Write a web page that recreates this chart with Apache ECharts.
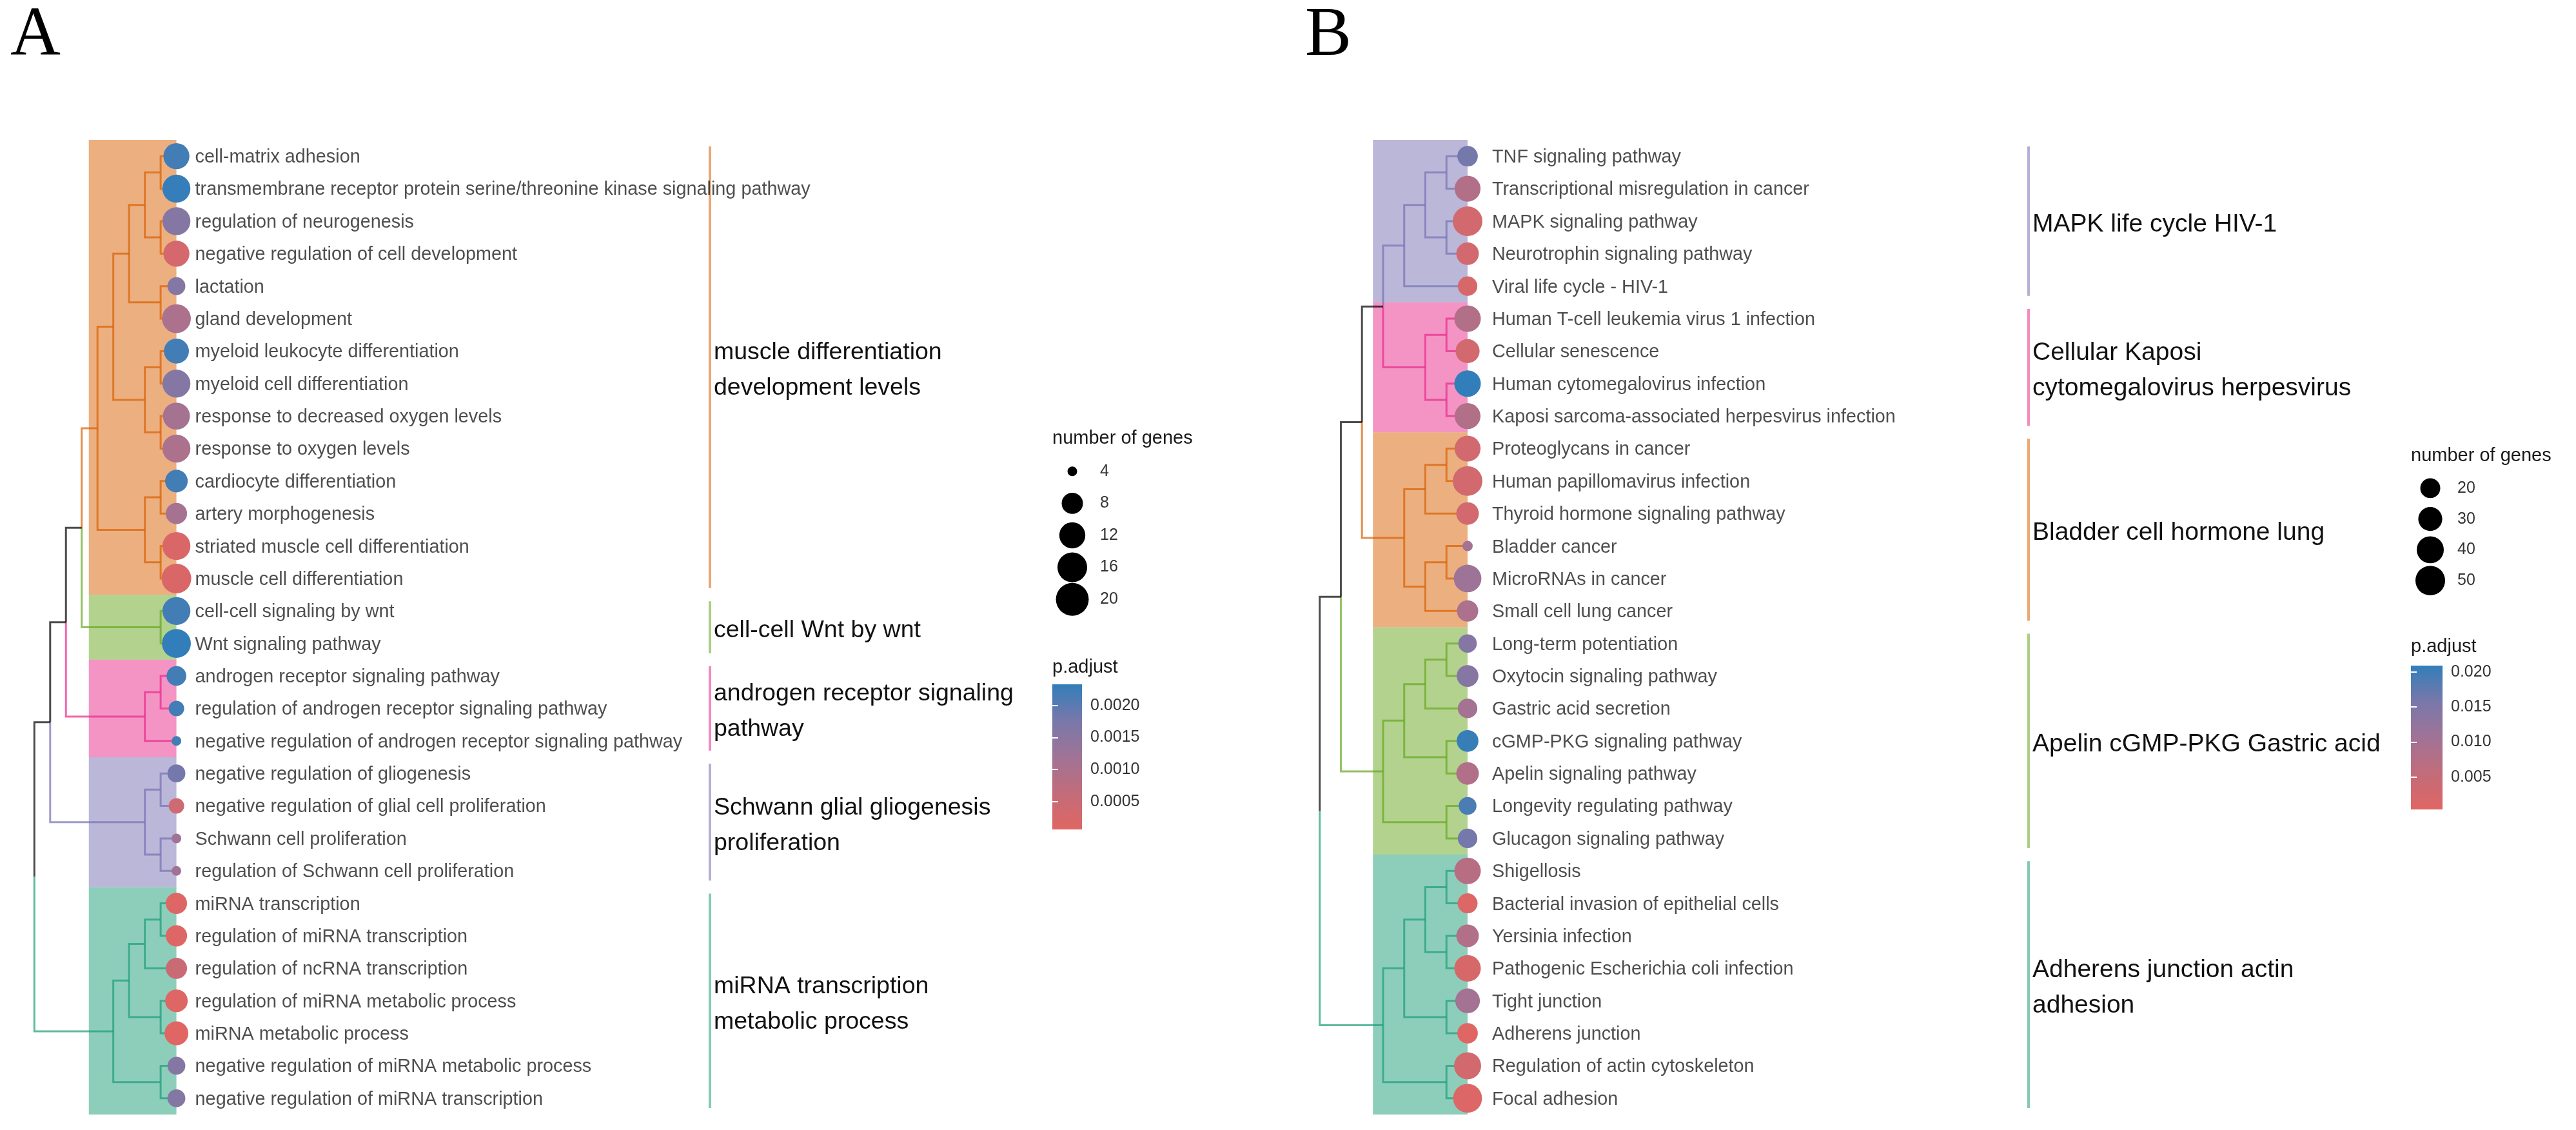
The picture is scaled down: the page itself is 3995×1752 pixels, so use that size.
<!DOCTYPE html>
<html><head><meta charset="utf-8">
<script src="https://cdn.jsdelivr.net/npm/echarts@6/dist/echarts.min.js"></script>
<style>html,body{margin:0;padding:0;background:#fff}#c{width:3995px;height:1752px}</style>
</head><body><div id="c"></div>
<script>
// ---------------- DATA: panel A ----------------
const termsA = [
'cell-matrix adhesion',
'transmembrane receptor protein serine/threonine kinase signaling pathway',
'regulation of neurogenesis',
'negative regulation of cell development',
'lactation',
'gland development',
'myeloid leukocyte differentiation',
'myeloid cell differentiation',
'response to decreased oxygen levels',
'response to oxygen levels',
'cardiocyte differentiation',
'artery morphogenesis',
'striated muscle cell differentiation',
'muscle cell differentiation',
'cell-cell signaling by wnt',
'Wnt signaling pathway',
'androgen receptor signaling pathway',
'regulation of androgen receptor signaling pathway',
'negative regulation of androgen receptor signaling pathway',
'negative regulation of gliogenesis',
'negative regulation of glial cell proliferation',
'Schwann cell proliferation',
'regulation of Schwann cell proliferation',
'miRNA transcription',
'regulation of miRNA transcription',
'regulation of ncRNA transcription',
'regulation of miRNA metabolic process',
'miRNA metabolic process',
'negative regulation of miRNA metabolic process',
'negative regulation of miRNA transcription'];
const countA = [12,14,14,12,6,15,11,14,13,14,9,8,14,16,14,15,7,5,4,6,5,4,4,8,8,8,9,10,6,6];
const padjA = [0.0022,0.0023,0.0016,0.0003,0.0016,0.0010,0.0022,0.0016,0.0011,0.0010,0.0022,0.0011,0.0002,0.0002,
  0.0022,0.00233,0.0022,0.0022,0.0022,0.0018,0.0004,0.0012,0.0012,0.0001,0.0001,0.0005,0.0001,0.000067,0.0016,0.0016];
const clusterOfRowA = [0,0,0,0,0,0,0,0,0,0,0,0,0,0,1,1,2,2,2,3,3,3,3,4,4,4,4,4,4,4];
const clusterLabelsA = ['muscle differentiation\ndevelopment levels','cell-cell Wnt by wnt',
  'androgen receptor signaling\npathway','Schwann glial gliogenesis\nproliferation','miRNA transcription\nmetabolic process'];
// tree: [mergeLevel, childA, childB], leaves = row index
const treeA = [9,
  [8,
    [7,
      [6,
        [5,
          [4,
            [3, [2, [1,0,1], [1,2,3]], [1,4,5]],
            [2, [1,6,7], [1,8,9]]],
          [2, [1,10,11], [1,12,13]]],
        [1,14,15]],
      [2, [1,16,17], 18]],
    [2, [1,19,20], [1,21,22]]],
  [4,
    [3, [2, [1,23,24], 25], [1,26,27]],
    [1,28,29]]];
const sizeBreaksA = [4,8,12,16,20];
const padjTicksA = [0.0005,0.0010,0.0015,0.0020];

// ---------------- DATA: panel B ----------------
const termsB = ['TNF signaling pathway','Transcriptional misregulation in cancer','MAPK signaling pathway',
'Neurotrophin signaling pathway','Viral life cycle - HIV-1','Human T-cell leukemia virus 1 infection',
'Cellular senescence','Human cytomegalovirus infection','Kaposi sarcoma-associated herpesvirus infection',
'Proteoglycans in cancer','Human papillomavirus infection','Thyroid hormone signaling pathway','Bladder cancer',
'MicroRNAs in cancer','Small cell lung cancer','Long-term potentiation','Oxytocin signaling pathway',
'Gastric acid secretion','cGMP-PKG signaling pathway','Apelin signaling pathway','Longevity regulating pathway',
'Glucagon signaling pathway','Shigellosis','Bacterial invasion of epithelial cells','Yersinia infection',
'Pathogenic Escherichia coli infection','Tight junction','Adherens junction','Regulation of actin cytoskeleton',
'Focal adhesion'];
const countB = [21,36,50,26,19,38,30,38,36,36,50,26,10,42,23,17,24,19,24,26,16,19,38,20,26,38,32,21,40,47];
const padjB = [0.016,0.008,0.003,0.003,0.002,0.008,0.003,0.0209,0.008,0.003,0.003,0.003,0.010,0.011,0.009,
  0.014,0.014,0.010,0.0205,0.008,0.019,0.016,0.007,0.001,0.008,0.002,0.010,0.0004,0.003,0.001];
const clusterOfRowB = [0,0,0,0,0,1,1,1,1,2,2,2,2,2,2,3,3,3,3,3,3,3,4,4,4,4,4,4,4,4];
const clusterLabelsB = ['MAPK life cycle HIV-1','Cellular Kaposi\ncytomegalovirus herpesvirus',
  'Bladder cell hormone lung','Apelin cGMP-PKG Gastric acid','Adherens junction actin\nadhesion'];
const treeB = [7,
  [6,
    [5,
      [4, [3, [2, [1,0,1], [1,2,3]], 4], [2, [1,5,6], [1,7,8]]],
      [3, [2, [1,9,10], 11], [2, [1,12,13], 14]]],
    [4, [3, [2, [1,15,16], 17], [1,18,19]], [1,20,21]]],
  [4, [3, [2, [1,22,23], [1,24,25]], [1,26,27]], [1,28,29]]];
const sizeBreaksB = [20,30,40,50];
const padjTicksB = [0.005,0.010,0.015,0.020];

// ---------------- STYLE / LAYOUT ----------------
const FONT = '"Liberation Sans", Arial, sans-serif';
const D2 = {orange:'#D95F02', green:'#66A61E', pink:'#E7298A', purple:'#7570B3', teal:'#1B9E77'};
const GRAD = ['#e06663','#c26c7a','#a07396','#7878aa','#327eba'];

const panels = [
  {terms:termsA, count:countA, padj:padjA, cl:clusterOfRowA, clLabels:clusterLabelsA, tree:treeA,
   colors:[D2.orange,D2.green,D2.pink,D2.purple,D2.teal],
   gridLeft:53.3, leafX:273.6, gridRight:1101, xMax:9, hl:5.55, labelOffset:29, clFont:37.5,
   sizeDomain:[4,21], sizeRange:[15,52], sizeBreaks:sizeBreaksA, padjTicks:padjTicksA, dec:4,
   sizeLeg:{left:1632, top:706, width:62, height:248}, sizeTitleTop:665,
   cbar:{left:1632, top:1061, width:46, height:225}, cbarTitleTop:1020},
  {terms:termsB, count:countB, padj:padjB, cl:clusterOfRowB, clLabels:clusterLabelsB, tree:treeB,
   colors:[D2.purple,D2.pink,D2.orange,D2.green,D2.teal],
   gridLeft:2046.7, leafX:2276, gridRight:3146, xMax:7, hl:4.48, labelOffset:38, clFont:39,
   sizeDomain:[10,55], sizeRange:[16,47.8], sizeBreaks:sizeBreaksB, padjTicks:padjTicksB, dec:3,
   sizeLeg:{left:3739, top:733, width:60, height:191}, sizeTitleTop:692,
   cbar:{left:3739, top:1032, width:49, height:223}, cbarTitleTop:988}
];
const GRID_TOP = 217, GRID_H = 1511;

function buildEdges(tree, cl) {
  const edges = [];
  function walk(node) {
    if (typeof node === 'number') return {x:0, y:node, g:cl[node]};
    const ca = walk(node[1]), cb = walk(node[2]);
    const me = {x:node[0], y:(ca.y+cb.y)/2, g:(ca.g === cb.g ? ca.g : -1)};
    edges.push([me.x, me.y, ca.x, ca.y, ca.g]);
    edges.push([me.x, me.y, cb.x, cb.y, cb.g]);
    return me;
  }
  walk(tree);
  return edges;
}
function clusterSpans(cl) {
  const res = [];
  cl.forEach((g, i) => {
    if (!res[g]) res[g] = [i, i, g]; else res[g][1] = i;
  });
  return res;
}

const grids = [], xAxes = [], yAxes = [], series = [], visualMaps = [], titles = [];
const serifFont = '"Liberation Serif", "Times New Roman", serif';
titles.push({text:'A', left:16, top:3, padding:0, textStyle:{fontFamily:serifFont, fontSize:108, lineHeight:108, fontWeight:'normal', color:'#000'}});
titles.push({text:'B', left:2024, top:3, padding:0, textStyle:{fontFamily:serifFont, fontSize:108, lineHeight:108, fontWeight:'normal', color:'#000'}});

panels.forEach((P, pi) => {
  const perLevel = (P.leafX - P.gridLeft) / P.xMax;
  const xMin = -(P.gridRight - P.leafX) / perLevel;
  const n = P.terms.length;
  const sizeFn = v => P.sizeRange[0] + (P.sizeRange[1]-P.sizeRange[0]) *
      Math.sqrt(Math.max(0, v - P.sizeDomain[0]) / (P.sizeDomain[1]-P.sizeDomain[0]));
  const pMin = Math.min(...P.padj), pMax = Math.max(...P.padj);

  // main tree grid
  const gi = grids.length;
  grids.push({left:P.gridLeft, top:GRID_TOP, width:P.gridRight-P.gridLeft, height:GRID_H});
  const gx = xAxes.length, gy = yAxes.length;
  xAxes.push({type:'value', gridIndex:gi, min:xMin, max:P.xMax, inverse:true, show:false});
  yAxes.push({type:'value', gridIndex:gi, min:-0.5, max:n-0.5, inverse:true, show:false});

  const spans = clusterSpans(P.cl);
  // highlight rectangles
  series.push({type:'custom', xAxisIndex:gx, yAxisIndex:gy, silent:true, clip:false, z:1,
    data: spans.map(s => [s[0], s[1], s[2]]),
    renderItem: (params, api) => {
      const a = api.coord([P.hl, api.value(0)-0.5]);
      const b = api.coord([0, api.value(1)+0.5]);
      return {type:'rect', shape:{x:a[0], y:a[1], width:b[0]-a[0], height:b[1]-a[1]},
        style:{fill:P.colors[api.value(2)], opacity:0.5}};
    }});
  // tree edges
  series.push({type:'custom', xAxisIndex:gx, yAxisIndex:gy, silent:true, clip:false, z:2,
    data: buildEdges(P.tree, P.cl),
    renderItem: (params, api) => {
      const px = api.value(0), py = api.value(1), cx = api.value(2), cy = api.value(3), g = api.value(4);
      const p1 = api.coord([px, py]), p2 = api.coord([px, cy]), p3 = api.coord([cx, cy]);
      return {type:'polyline', shape:{points:[p1,p2,p3]},
        style:{stroke: g < 0 ? '#000' : P.colors[g], lineWidth:3, opacity:0.7, fill:null, lineJoin:'miter', lineCap:'butt'}};
    }});
  // clade bars + labels
  series.push({type:'custom', xAxisIndex:gx, yAxisIndex:gy, silent:true, clip:false, z:2,
    data: spans.map(s => [s[0], s[1], s[2]]),
    renderItem: (params, api) => {
      const g = api.value(2);
      const t = api.coord([xMin, api.value(0)-0.3]);
      const b = api.coord([xMin, api.value(1)+0.3]);
      return {type:'group', children:[
        {type:'line', shape:{x1:t[0], y1:t[1], x2:b[0], y2:b[1]},
          style:{stroke:P.colors[g], lineWidth:4, opacity:0.55}},
        {type:'text', x:t[0]+6, y:(t[1]+b[1])/2 + 5,
          style:{text:P.clLabels[g], fontFamily:FONT, fontSize:P.clFont, lineHeight:55, fill:'#111',
            align:'left', verticalAlign:'middle'}}
      ]};
    }});
  // points
  const ptIdx = series.length;
  series.push({type:'scatter', xAxisIndex:gx, yAxisIndex:gy, silent:true, z:3,
    data: P.terms.map((t, i) => [0, i, P.count[i], P.padj[i]]),
    symbolSize: v => sizeFn(v[2]),
    itemStyle:{opacity:1}});
  // leaf labels
  series.push({type:'scatter', xAxisIndex:gx, yAxisIndex:gy, silent:true, z:4,
    data: P.terms.map((t, i) => [0, i]),
    symbolSize:0.01, itemStyle:{color:'rgba(0,0,0,0)'},
    label:{show:true, position:'right', distance:P.labelOffset, offset:[0,2],
      formatter: p => P.terms[p.dataIndex], fontFamily:FONT, fontSize:28.8, color:'#222'}});
  visualMaps.push({type:'continuous', show:false, seriesIndex:ptIdx, dimension:3, min:pMin, max:pMax,
    inRange:{color:GRAD, opacity:1}});

  // size legend
  const si = grids.length;
  grids.push({left:P.sizeLeg.left, top:P.sizeLeg.top, width:P.sizeLeg.width, height:P.sizeLeg.height});
  const sx = xAxes.length, sy = yAxes.length;
  xAxes.push({type:'value', gridIndex:si, min:0, max:1, show:false});
  yAxes.push({type:'category', gridIndex:si, data:P.sizeBreaks.map(String), inverse:true, position:'right',
    axisLine:{show:false}, axisTick:{show:false}, splitLine:{show:false},
    axisLabel:{margin:12, fontFamily:FONT, fontSize:25, color:'#333', align:'left'}});
  series.push({type:'scatter', xAxisIndex:sx, yAxisIndex:sy, silent:true,
    data: P.sizeBreaks.map((v, i) => [0.5, i, v]),
    symbolSize: v => sizeFn(v[2]), itemStyle:{color:'#000', opacity:1}});
  titles.push({text:'number of genes', left:P.sizeLeg.left, top:P.sizeTitleTop, padding:0,
    textStyle:{fontFamily:FONT, fontSize:29, lineHeight:29, fontWeight:'normal', color:'#1a1a1a'}});

  // colour bar
  const ci = grids.length;
  grids.push({left:P.cbar.left, top:P.cbar.top, width:P.cbar.width, height:P.cbar.height});
  const cx = xAxes.length, cy = yAxes.length;
  xAxes.push({type:'value', gridIndex:ci, min:0, max:1, show:false});
  yAxes.push({type:'value', gridIndex:ci, min:pMin, max:pMax, position:'right', z:10,
    axisLine:{show:false}, splitLine:{show:false},
    axisTick:{show:true, inside:true, length:9, customValues:P.padjTicks, lineStyle:{color:'#fff', width:2}},
    axisLabel:{customValues:P.padjTicks, formatter: v => v.toFixed(P.dec), margin:13,
      fontFamily:FONT, fontSize:25, color:'#333'}});
  yAxes.push({type:'value', gridIndex:ci, min:pMin, max:pMax, position:'left', z:10,
    axisLine:{show:false}, splitLine:{show:false}, axisLabel:{show:false},
    axisTick:{show:true, inside:true, length:9, customValues:P.padjTicks, lineStyle:{color:'#fff', width:2}}});
  series.push({type:'custom', xAxisIndex:cx, yAxisIndex:cy, silent:true, clip:false, z:1,
    data:[[0]],
    renderItem: (params, api) => {
      const a = api.coord([0, pMax]), b = api.coord([1, pMin]);
      return {type:'rect', shape:{x:a[0], y:a[1], width:b[0]-a[0], height:b[1]-a[1]},
        style:{fill:new echarts.graphic.LinearGradient(0, 1, 0, 0,
          GRAD.map((c, k) => ({offset:k/(GRAD.length-1), color:c})))}};
    }});
  titles.push({text:'p.adjust', left:P.cbar.left, top:P.cbarTitleTop, padding:0,
    textStyle:{fontFamily:FONT, fontSize:29, lineHeight:29, fontWeight:'normal', color:'#1a1a1a'}});
});

const chart = echarts.init(document.getElementById('c'), null, {renderer:'canvas'});
chart.setOption({
  animation:false, backgroundColor:'#fff',
  title:titles, grid:grids, xAxis:xAxes, yAxis:yAxes, visualMap:visualMaps, series:series
});
</script></body></html>
